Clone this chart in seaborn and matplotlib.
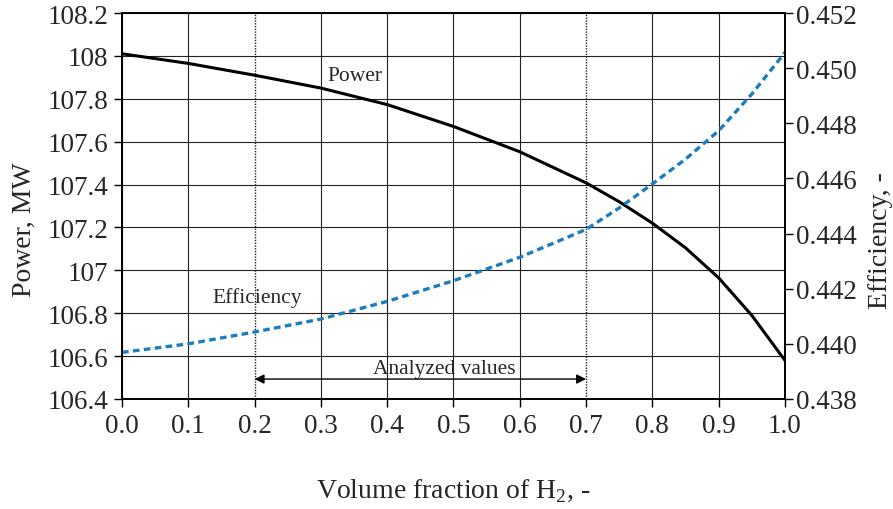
import matplotlib
matplotlib.use("Agg")
import matplotlib.pyplot as plt
import seaborn as sns
import pandas as pd

# data
h2_fraction = [0.0, 0.1, 0.2, 0.3, 0.4, 0.5, 0.6, 0.7, 0.75, 0.8, 0.85, 0.9, 0.95, 1.0]
power_mw = [108.01, 107.965, 107.91, 107.85, 107.773, 107.671, 107.553, 107.408, 107.32,
            107.22, 107.105, 106.965, 106.79, 106.58]
efficiency = [0.43969, 0.44000, 0.44043, 0.4409, 0.44154, 0.44229, 0.44314, 0.44415, 0.44493,
              0.4458, 0.4467, 0.44773, 0.44906, 0.45057]

left_ticks = [106.4, 106.6, 106.8, 107.0, 107.2, 107.4, 107.6, 107.8, 108.0, 108.2]
left_labels = ["106.4", "106.6", "106.8", "107", "107.2", "107.4", "107.6", "107.8", "108", "108.2"]
right_ticks = [0.438, 0.440, 0.442, 0.444, 0.446, 0.448, 0.450, 0.452]
x_ticks = [0.0, 0.1, 0.2, 0.3, 0.4, 0.5, 0.6, 0.7, 0.8, 0.9, 1.0]
analyzed_range = [0.2, 0.7]

df = pd.DataFrame({"x": h2_fraction, "power": power_mw, "eff": efficiency})

sns.set_style("white")
plt.rcParams["font.family"] = ["Liberation Serif", "DejaVu Serif"]
plt.rcParams["mathtext.fontset"] = "custom"
plt.rcParams["mathtext.rm"] = "Liberation Serif"

fig = plt.figure(figsize=(8.93, 5.10), dpi=100)
ax = fig.add_axes([0.1366, 0.2157, 0.7424, 0.7568])
ax2 = ax.twinx()

sns.lineplot(data=df, x="x", y="power", ax=ax, color="black", linewidth=2.2)
sns.lineplot(data=df, x="x", y="eff", ax=ax2, color="#1b7dc0", linewidth=2.4)
ax2.lines[0].set_dashes((2.0, 1.3))

ax.set_xlim(0, 1)
ax.set_ylim(106.4, 108.2)
ax2.set_ylim(0.438, 0.452)
ax.set_xticks(x_ticks)
ax.set_xticklabels([f"{v:.1f}" for v in x_ticks])
ax.set_yticks(left_ticks)
ax.set_yticklabels(left_labels)
ax2.set_yticks(right_ticks)
ax2.set_yticklabels([f"{v:.3f}" for v in right_ticks])

ax.grid(True, color="#222222", linewidth=0.8)
for i, gl in enumerate(ax.get_xgridlines()):
    if x_ticks[i] in analyzed_range:
        gl.set_linestyle((0, (1, 1)))
        gl.set_linewidth(1.0)

for a in (ax, ax2):
    for s in a.spines.values():
        s.set_color("black")
        s.set_linewidth(1.2)
ax.tick_params(axis="both", direction="out", length=6, width=1.0, color="black",
               labelsize=19.5, pad=4, left=True, bottom=True)
ax2.tick_params(axis="y", direction="out", length=6, width=1.0, color="black",
                labelsize=19.5, pad=2, right=True)

ax.set_xlabel("Volume fraction of H$_2$, -", fontsize=20)
ax.xaxis.set_label_coords(0.5, -0.236)
ax.xaxis.label.set_va("center")
ax.set_ylabel("Power, MW", fontsize=20)
ax.yaxis.set_label_coords(-0.147, 0.44)
ax.yaxis.label.set_va("center")
ax2.set_ylabel("Efficiency, -", fontsize=20, rotation=90)
ax2.yaxis.set_label_coords(1.144, 0.412)
ax2.yaxis.label.set_va("center")

ax.text(0.352, 107.91, "Power", fontsize=15.5, ha="center", va="center")
ax.text(0.204, 106.875, "Efficiency", fontsize=15.5, ha="center", va="center")
ax.text(0.486, 106.54, "Analyzed values", fontsize=15.5, ha="center", va="center")
ax.annotate("", xy=(analyzed_range[0], 106.493), xytext=(analyzed_range[1], 106.493),
            arrowprops=dict(arrowstyle="<|-|>", color="black", lw=1.0,
                            shrinkA=0, shrinkB=0, mutation_scale=14))

fig.savefig("out.png", dpi=100)
